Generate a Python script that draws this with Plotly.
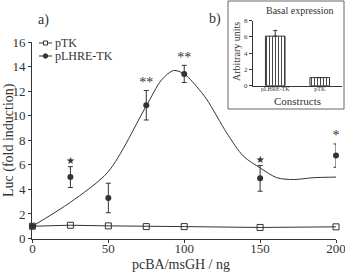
import plotly.graph_objects as go

# ---- data ----
dose = [0, 25, 50, 75, 100, 150, 200]
ptk = [1.0, 1.08, 1.03, 0.97, 0.97, 0.9, 0.95]
plhre = [1.0, 5.0, 3.3, 10.85, 13.4, 4.9, 6.75]
plhre_err = [0.0, 0.85, 1.2, 1.2, 0.7, 1.05, 0.95]
signif = ["", "★", "", "**", "**", "★", "*"]

fit_x = [0, 25, 50, 75, 85, 93, 100, 108, 115, 128, 139, 150, 161, 172, 185, 200]
fit_y = [1.0, 2.95, 5.45, 10.8, 12.9, 13.68, 13.4, 12.4, 11.3, 8.6, 6.7, 5.75, 4.95, 4.8, 4.95, 5.0]

constructs = ["pLHRE-TK", "pTK"]
basal = [6.1, 1.0]
basal_err = [0.7, 0.0]

legend_names = ["pTK", "pLHRE-TK"]

C = "#333333"
FONT = "Liberation Serif, Times New Roman, serif"

fig = go.Figure()

# pTK
fig.add_trace(go.Scatter(
    x=dose, y=ptk, mode="lines+markers", name=legend_names[0], showlegend=False,
    line=dict(color=C, width=1),
    marker=dict(symbol="square-open", size=6, color=C, line=dict(width=1)),
    cliponaxis=False, xaxis="x", yaxis="y"))

# pLHRE-TK fitted curve
fig.add_trace(go.Scatter(
    x=fit_x, y=fit_y, mode="lines", name=legend_names[1], showlegend=False,
    line=dict(color=C, width=1, shape="spline", smoothing=0.8),
    cliponaxis=False, xaxis="x", yaxis="y"))

# pLHRE-TK points with error bars
fig.add_trace(go.Scatter(
    x=dose, y=plhre, mode="markers", name=legend_names[1], showlegend=False,
    marker=dict(symbol="circle", size=6, color=C),
    error_y=dict(type="data", array=plhre_err, color=C, thickness=1, width=2.5),
    cliponaxis=False, xaxis="x", yaxis="y"))

# significance marks (split by glyph so each gets a suitable font)
top = [m + e for m, e in zip(plhre, plhre_err)]
for glyph_set, fam, size in [(("**", "*"), FONT, 14), (("★",), "DejaVu Sans", 10)]:
    idx = [i for i, s in enumerate(signif) if s in glyph_set]
    fig.add_trace(go.Scatter(
        x=[dose[i] for i in idx], y=[top[i] for i in idx],
        mode="text", text=[signif[i] for i in idx], textposition="top center",
        textfont=dict(family=fam, size=size, color=C),
        showlegend=False, cliponaxis=False, xaxis="x", yaxis="y"))

# inset bars
fig.add_trace(go.Bar(
    x=constructs, y=basal, width=0.44, showlegend=False,
    marker=dict(color="white", line=dict(color=C, width=1),
                pattern=dict(shape="|", fgcolor=C, bgcolor="white", size=3, solidity=0.3)),
    error_y=dict(type="data", symmetric=False, array=basal_err, arrayminus=[0, 0],
                 color=C, thickness=1, width=2),
    xaxis="x2", yaxis="y2"))

W, H = 345, 273
def px(v): return v / W
def py(v): return 1 - v / H

def ann(text, x, y, size, angle=0, xanchor="center"):
    return dict(text=text, x=px(x), y=py(y), xref="paper", yref="paper",
                xanchor=xanchor, yanchor="middle", showarrow=False,
                textangle=angle, font=dict(size=size, family=FONT, color=C))

# hand-drawn legend (short symbol lines as in the reference)
leg_y = [43, 56]
shapes = [dict(type="rect", xref="paper", yref="paper",
               x0=px(228), x1=px(344), y0=py(109), y1=py(1),
               line=dict(color="#666666", width=1), fillcolor="white", layer="below")]
for yy in leg_y:
    shapes.append(dict(type="line", xref="paper", yref="paper",
                       x0=px(39), x1=px(52), y0=py(yy), y1=py(yy),
                       line=dict(color=C, width=1)))
shapes.append(dict(type="rect", xref="paper", yref="paper",
                   x0=px(43.5), x1=px(47.5), y0=py(leg_y[0] + 2), y1=py(leg_y[0] - 2),
                   line=dict(color=C, width=1), fillcolor="white"))
shapes.append(dict(type="circle", xref="paper", yref="paper",
                   x0=px(43.3), x1=px(47.7), y0=py(leg_y[1] + 2.2), y1=py(leg_y[1] - 2.2),
                   line=dict(color=C, width=1), fillcolor=C))

fig.update_layout(
    width=W, height=H, template="none",
    margin=dict(l=0, r=0, t=0, b=0),
    paper_bgcolor="white", plot_bgcolor="rgba(0,0,0,0)",
    font=dict(family=FONT, color=C, size=13),
    showlegend=False,
    xaxis=dict(domain=[px(32), px(336)], range=[-0.3, 200], anchor="y",
               tickvals=[0, 50, 100, 150, 200], ticks="outside", ticklen=3,
               tickcolor=C, showline=True, linecolor=C, linewidth=1,
               showgrid=False, zeroline=False, automargin=False,
               ticklabelstandoff=-6, ticklabeloverflow="allow",
               tickfont=dict(size=13, family=FONT, color=C)),
    yaxis=dict(domain=[py(239), py(42)], range=[-0.04, 16], anchor="x",
               tickvals=list(range(0, 17, 2)), ticks="outside", ticklen=3,
               tickcolor=C, showline=True, linecolor=C, linewidth=1,
               showgrid=False, zeroline=False, automargin=False,
               ticklabeloverflow="allow",
               tickfont=dict(size=13, family=FONT, color=C)),
    xaxis2=dict(domain=[px(253), px(342)], range=[-0.5, 1.5], anchor="y2",
                showline=True, linecolor=C, linewidth=1, ticks="",
                showgrid=False, zeroline=False, automargin=False,
                ticklabelstandoff=-3,
                tickfont=dict(size=6, family=FONT, color=C)),
    yaxis2=dict(domain=[py(85.7), py(20.7)], range=[0, 8], anchor="x2",
                tickvals=[0, 2, 4, 6, 8], ticks="outside", ticklen=3,
                tickcolor=C, showline=True, linecolor=C, linewidth=1,
                showgrid=False, zeroline=False, automargin=False,
                tickfont=dict(size=7, family=FONT, color=C)),
    shapes=shapes,
    annotations=[
        ann("a)", 43, 20, 14),
        ann("b)", 215, 19, 14),
        ann("Luc (fold induction)", 9, 140, 14, angle=-90),
        ann("pcBA/msGH / ng", 181, 264, 14),
        ann("Basal expression", 300, 11, 10),
        ann("Arbitrary units", 236, 52, 10, angle=-90),
        ann("Constructs", 297, 101, 11),
        ann(legend_names[0], 53, leg_y[0], 12, xanchor="left"),
        ann(legend_names[1], 53, leg_y[1], 12, xanchor="left"),
    ],
)

fig.write_html("out.html")
